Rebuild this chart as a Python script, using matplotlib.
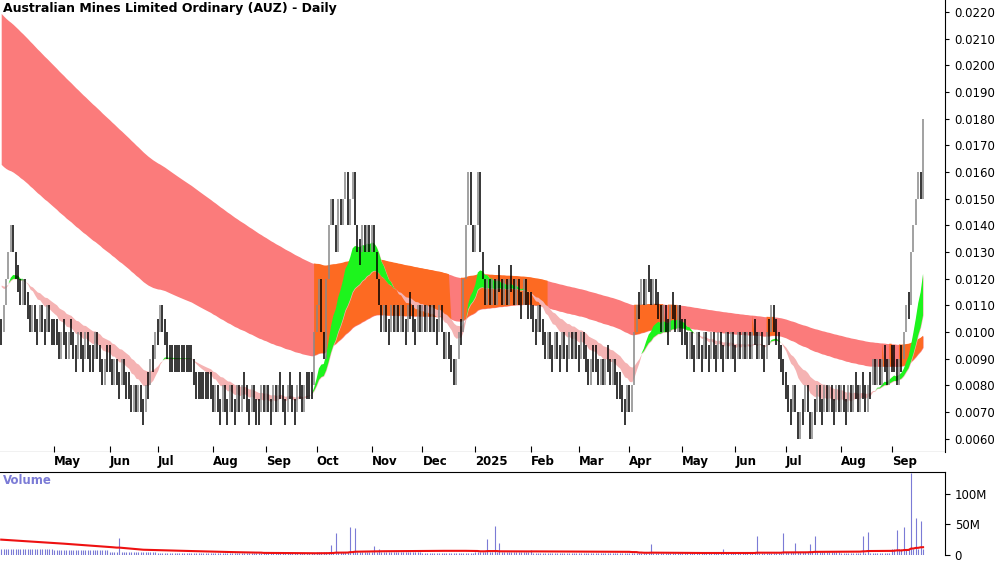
import numpy as np, pandas as pd, matplotlib
matplotlib.use("Agg")
import matplotlib.pyplot as plt

# closes in tenths of a cent (x 0.0001 AUD) per month
closes_by_month = {
 "2024-04": [10,11,12,13,14,13,12,12,11,12,11,11,10,11,10,10,11,10,10,11,10,10],
 "2024-05": [10,10,9,10,10,9,10,10,9,9,10,9,9,10,9,9,9,10,9,9,8,9,9],
 "2024-06": [9,8,9,8,8,9,8,8,8,7,8,7,8,7,7,8,8,9,9,10],
 "2024-07": [10,11,10,10,9,9,9,9,9,9,9,9,9,9,9,8,8,8,8,8,8,8,8],
 "2024-08": [7,8,7,7,8,7,7,8,7,7,8,7,8,8,7,7,8,7,7,7,8,7],
 "2024-09": [8,7,7,8,7,8,8,7,7,8,8,7,7,8,8,7,8,8,8,8,10],
 "2024-10": [11,12,10,9,12,14,15,14,13,15,14,15,16,14,15,16,14,13,13,14,13,14,13],
 "2024-11": [14,13,12,11,10,11,10,10,11,10,11,10,11,10,10,11,11,10,10,11,10],
 "2024-12": [11,10,11,10,11,10,10,11,10,9,10,9,9,8,9,10,10,12,14,16,14,13],
 "2025-01": [14,16,13,12,11,12,11,12,11,12,12,11,12,11,12,12,11,12,11,11,12,11,11],
 "2025-02": [11,10,10,11,10,10,9,10,9,9,10,9,9,10,9,9,10,9,10,9],
 "2025-03": [9,10,9,9,8,9,9,9,8,9,8,9,9,8,9,8,8,8,7,7,8],
 "2025-04": [7,8,10,11,11,12,11,12,12,11,12,11,11,10,11,10,10,11,11,10,11,10],
 "2025-05": [10,10,9,10,9,9,10,9,9,10,9,9,10,9,9,10,9,9,10,9,10,9],
 "2025-06": [9,10,9,10,9,10,9,10,10,9,10,9,9,10,10,11,10,10,9,9,8],
 "2025-07": [8,7,7,8,7,6,7,7,8,7,6,7,7,8,7,7,8,7,8,7,7,8,7],
 "2025-08": [8,7,7,8,7,8,8,7,8,8,7,8,8,9,8,9,8,9,9,8,9],
 "2025-09": [9,9,8,9,9,10,11,11,13,14,15,16,15,18],
}
# warmup monthly levels (Oct 2022 - Mar 2024) for moving averages
warmup_levels = [0.042,0.042,0.042,0.042,0.042,0.042,0.041,0.040,0.038,0.036,0.034,0.031,
                 0.028,0.022,0.015,0.011,0.011,0.012]
vol_base = {"2024-04":10,"2024-05":8,"2024-06":4,"2024-07":3,"2024-08":2,"2024-09":2,
            "2024-10":5,"2024-11":4,"2024-12":3,"2025-01":5,"2025-02":3,"2025-03":2,
            "2025-04":3,"2025-05":2,"2025-06":2,"2025-07":4,"2025-08":3,"2025-09":10}
vol_spikes = {49:27,137:16,157:9,220:8,139:35,145:45,147:44,155:15,
              202:26,205:48,207:20,314:30,325:35,330:20,336:18,338:30,358:30,360:38,
              372:40,375:45,378:135,380:60,382:55,270:18,300:10}
month_labels = ["May","Jun","Jul","Aug","Sep","Oct","Nov","Dec","2025","Feb","Mar","Apr",
                "May","Jun","Jul","Aug","Sep"]

closes = np.concatenate([np.array(v) for v in closes_by_month.values()]) * 0.001
months = np.concatenate([[k]*len(v) for k, v in closes_by_month.items()])
n = len(closes)
idx = np.arange(n)
warm = np.repeat(warmup_levels, 21)
full = pd.Series(np.concatenate([warm, closes]))
def ema(s): return full.ewm(span=s, adjust=False).mean().values[len(warm):]
long_fast, long_slow = ema(120), ema(220)
short_fast, short_slow = ema(18), ema(34)

fig = plt.figure(figsize=(10, 5.62), dpi=100)
ax = fig.add_axes([0, 0.196, 0.945, 0.804])
axv = fig.add_axes([0, 0.012, 0.945, 0.148])

lo = np.minimum(long_fast, long_slow); hi = np.maximum(long_fast, long_slow)
ax.fill_between(idx, lo, hi, color="#fb7b7b", lw=0)
orange = (np.gradient(long_fast) > 0) | (short_slow > lo)
ax.fill_between(idx, lo, hi, where=orange, color="#fd6a22", lw=0, interpolate=True)
slo = np.minimum(short_fast, short_slow); shi = np.maximum(short_fast, short_slow)
rising = short_fast > short_slow
ax.fill_between(idx, slo, shi, color="#f5b3b3", lw=0)
ax.fill_between(idx, slo, shi, where=rising, color="#1df41d", lw=0, interpolate=True)

prev = np.concatenate([[closes[0]], closes[:-1]])
for i in range(n):
    a, b = min(prev[i], closes[i]), max(prev[i], closes[i])
    if a == b:
        a, b = a - 0.0005, b + 0.0005
    col = "black" if closes[i] <= prev[i] else "#888888"
    ax.vlines(i, a, b, color=col, lw=1.1)

ax.set_ylim(0.00551, 0.02245)
xmax = 945 / 2.41
ax.set_xlim(-0.5, xmax)
axv.set_xlim(-0.5, xmax)
ax.yaxis.tick_right()
ax.set_yticks(np.arange(0.006, 0.0221, 0.001))
ax.set_yticklabels([f"{v:.4f}" for v in np.arange(0.006, 0.0221, 0.001)], fontsize=8.5)
starts = [i for i in range(1, n) if months[i] != months[i-1]]
ax.set_xticks(starts)
ax.set_xticklabels(month_labels, fontsize=8.5, fontweight="bold", ha="left")
ax.tick_params(axis="x", direction="in", length=4, pad=2)
ax.tick_params(axis="y", length=3)
for s in ["top", "left", "bottom"]:
    ax.spines[s].set_visible(False)
ax.axhline(0.00551, color="black", lw=0.8)
ax.text(0.003, 0.995, "Australian Mines Limited Ordinary (AUZ) - Daily", transform=ax.transAxes,
        fontsize=9, fontweight="bold", va="top")

vol = np.array([vol_base[m] for m in months], dtype=float)
for k, v in vol_spikes.items():
    if k < n: vol[k] = v
axv.vlines(idx, 0, vol, color="#7b7bd6", lw=0.8)
vma = pd.Series(np.concatenate([np.full(60, 25.0), vol])).rolling(60).mean().values[60:]
axv.plot(idx, vma, color="#ee1111", lw=1.5)
axv.set_ylim(-1, 136)
axv.yaxis.tick_right()
axv.set_yticks([0, 50, 100]); axv.set_yticklabels(["0", "50M", "100M"], fontsize=8.5)
axv.set_xticks([])
for s in ["top", "left", "bottom"]:
    axv.spines[s].set_visible(False)
axv.text(0.003, 0.98, "Volume", transform=axv.transAxes, fontsize=8.5, color="#7b7bd6",
         fontweight="bold", va="top")
fig.add_artist(plt.Line2D([0, 0.945], [0.16, 0.16], color="black", lw=0.8))
fig.savefig("out.png", dpi=100)
